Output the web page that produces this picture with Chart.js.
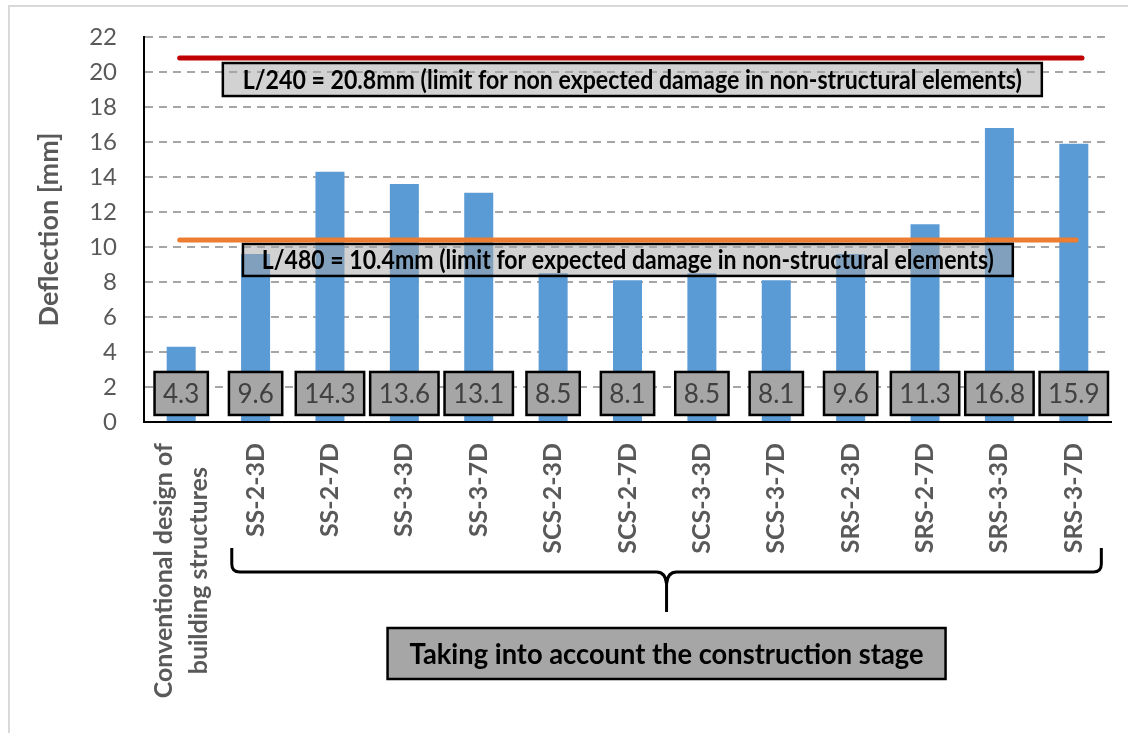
<!DOCTYPE html>
<html lang="en">
<head>
  <meta charset="UTF-8">
  <title>Deflection</title>
  <script src="https://cdn.jsdelivr.net/npm/chart.js"></script>
  <style>
    * { margin: 0; padding: 0; box-sizing: border-box; }
    body { background: #fff; width: 1128px; height: 733px; overflow: hidden; }
  </style>
</head>
<body>
  <canvas id="deflChart" width="1128" height="733"></canvas>

  <script>
    // Data
    const categories = [
      ['Conventional design of', 'building structures'],
      'SS-2-3D', 'SS-2-7D', 'SS-3-3D', 'SS-3-7D',
      'SCS-2-3D', 'SCS-2-7D', 'SCS-3-3D', 'SCS-3-7D',
      'SRS-2-3D', 'SRS-2-7D', 'SRS-3-3D', 'SRS-3-7D'
    ];
    const deflection = [4.3, 9.6, 14.3, 13.6, 13.1, 8.5, 8.1, 8.5, 8.1, 9.6, 11.3, 16.8, 15.9];
    const yMin = 0, yMax = 22, yStep = 2;
    const limitValues = [20.8, 10.4];
    const limitColors = ['#c00000', '#ed7d31'];
    const limitTexts = [
      'L/240 = 20.8mm (limit for non expected damage in non-structural elements)',
      'L/480 = 10.4mm (limit for expected damage in non-structural elements)'
    ];
    const groupText = 'Taking into account the construction stage';

    const FONT = 'Lato, "Open Sans", sans-serif';

    // helper: x pixel at a fractional category index
    function xAt(scale, idx) {
      const x0 = scale.getPixelForValue(0);
      const step = scale.getPixelForValue(1) - x0;
      return x0 + idx * step;
    }

    function drawBox(ctx, x, y, w, h, fill, lw) {
      ctx.fillStyle = fill;
      ctx.fillRect(x, y, w, h);
      ctx.lineWidth = lw;
      ctx.strokeStyle = '#000';
      ctx.strokeRect(x, y, w, h);
    }

    const extras = {
      id: 'extras',
      beforeDraw(chart) {
        const ctx = chart.ctx;
        // light frame round the figure
        ctx.save();
        ctx.strokeStyle = '#d9d9d9';
        ctx.lineWidth = 2;
        ctx.beginPath();
        ctx.moveTo(9, 740);
        ctx.lineTo(9, 6);
        ctx.lineTo(1140, 6);
        ctx.stroke();
        ctx.restore();
      },
      afterDatasetsDraw(chart) {
        const ctx = chart.ctx;
        const xs = chart.scales.x, ys = chart.scales.y;
        const bottom = chart.chartArea.bottom;
        ctx.save();

        const boxes = [
          { from: 0.56, to: 11.57, mid: 19.57, h: 33 },
          { from: 0.83, to: 11.18, mid: 9.26, h: 32 }
        ];
        const lineEnds = [12.11, 12.03];

        // value labels
        ctx.font = '26px ' + FONT;
        ctx.textAlign = 'center';
        ctx.textBaseline = 'middle';
        deflection.forEach((v, i) => {
          const txt = v.toFixed(1);
          const w = ctx.measureText(txt).width + 17;
          const h = 43;
          const cx = xs.getPixelForValue(i);
          const cy = ys.getPixelForValue(1.63);
          drawBox(ctx, cx - w / 2, cy - h / 2, w, h, '#a6a6a6', 2.5);
          ctx.fillStyle = '#404040';
          ctx.fillText(txt, cx, cy + 1);
        });

        // limit text boxes (see-through, over the bars)
        boxes.forEach((b, k) => {
          const l = xAt(xs, b.from), r = xAt(xs, b.to);
          const cy = ys.getPixelForValue(b.mid);
          drawBox(ctx, l, cy - b.h / 2, r - l, b.h, 'rgba(166,166,166,0.5)', 2.5);
          ctx.fillStyle = '#000';
          ctx.font = 'bold 26px ' + FONT;
          const maxW = k === 0 ? 779 : 732;
          ctx.fillText(limitTexts[k], (l + r) / 2, cy + 1, maxW);
        });

        // limit lines
        ctx.lineCap = 'round';
        ctx.lineWidth = 5;
        limitValues.forEach((v, k) => {
          const y = ys.getPixelForValue(v);
          ctx.strokeStyle = limitColors[k];
          ctx.beginPath();
          ctx.moveTo(xAt(xs, -0.02), y);
          ctx.lineTo(xAt(xs, lineEnds[k]), y);
          ctx.stroke();
        });

        // category labels, rotated
        ctx.fillStyle = '#595959';
        ctx.font = 'bold 25px ' + FONT;
        categories.forEach((lab, i) => {
          const lines = Array.isArray(lab) ? lab : [lab];
          const maxW = Math.max(...lines.map(t => ctx.measureText(t).width));
          ctx.save();
          ctx.translate(xs.getPixelForValue(i), bottom + 21);
          ctx.rotate(-Math.PI / 2);
          lines.forEach((t, j) => {
            ctx.fillText(t, -maxW / 2, (j - (lines.length - 1) / 2) * 35);
          });
          ctx.restore();
        });

        // brace under the construction-stage cases
        const bl = xAt(xs, 0.68), br = xAt(xs, 12.37), bm = (bl + br) / 2;
        const top = bottom + 126, mid = bottom + 150, tip = bottom + 190;
        ctx.strokeStyle = '#000';
        ctx.lineWidth = 3;
        ctx.lineCap = 'butt';
        ctx.beginPath();
        ctx.moveTo(bl, top);
        ctx.lineTo(bl, mid - 8);
        ctx.quadraticCurveTo(bl, mid, bl + 8, mid);
        ctx.lineTo(bm - 10, mid);
        ctx.quadraticCurveTo(bm - 1, mid, bm, mid + 12);
        ctx.lineTo(bm, tip);
        ctx.moveTo(bm, mid + 12);
        ctx.quadraticCurveTo(bm + 1, mid, bm + 10, mid);
        ctx.lineTo(br - 8, mid);
        ctx.quadraticCurveTo(br, mid, br, mid - 8);
        ctx.lineTo(br, top);
        ctx.stroke();

        // group box
        const gw = 558, gh = 51, gy = bottom + 206;
        drawBox(ctx, bm - gw / 2, gy, gw, gh, '#a6a6a6', 2.5);
        ctx.fillStyle = '#000';
        ctx.font = 'bold 28px ' + FONT;
        ctx.fillText(groupText, bm, gy + gh / 2 + 1, 514);

        ctx.restore();
      }
    };

    new Chart(document.getElementById('deflChart'), {
      type: 'bar',
      data: {
        labels: categories,
        datasets: [{
          label: 'Deflection',
          data: deflection,
          backgroundColor: '#5b9bd5',
          borderWidth: 0,
          barPercentage: 1,
          categoryPercentage: 0.39
        }]
      },
      options: {
        responsive: false,
        animation: false,
        devicePixelRatio: 1,
        layout: { padding: { left: 9, top: 37, right: 17, bottom: 0 } },
        plugins: { legend: { display: false }, tooltip: { enabled: false } },
        scales: {
          x: {
            ticks: { display: false },
            grid: { display: false },
            border: { color: '#000', width: 2 },
            afterFit: s => { s.height = 311; }
          },
          y: {
            min: yMin,
            max: yMax,
            ticks: {
              stepSize: yStep,
              padding: 3,
              color: '#595959',
              font: { family: FONT, size: 24 }
            },
            grid: { color: '#a6a6a6', lineWidth: 2, drawTicks: true, tickLength: 24, tickColor: 'rgba(0,0,0,0)' },
            border: { color: '#000', width: 2, dash: [8, 6] },
            title: {
              display: true,
              text: 'Deflection [mm]',
              color: '#595959',
              font: { family: FONT, size: 27, weight: 'bold' },
              padding: { top: 24, bottom: 0 }
            },
            afterFit: s => { s.width = 135; }
          }
        }
      },
      plugins: [extras]
    });
  </script>
</body>
</html>
